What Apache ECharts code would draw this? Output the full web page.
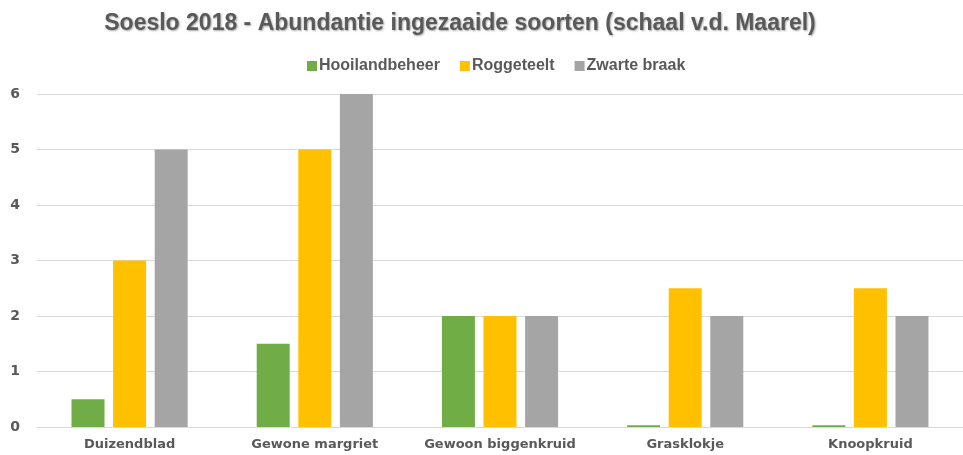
<!DOCTYPE html>
<html>
<head>
<meta charset="utf-8">
<script src="https://cdn.jsdelivr.net/npm/echarts@6/dist/echarts.min.js"></script>
<style>
  html, body { margin: 0; padding: 0; background: #fff; }
  #chart { width: 963px; height: 455px; }
</style>
</head>
<body>
<div id="chart"></div>
<script>
// soorten (categorieën)
const categories = ['Duizendblad', 'Gewone margriet', 'Gewoon biggenkruid', 'Grasklokje', 'Knoopkruid']
const hooilandbeheer = [0.5, 1.5, 2, 0.03, 0.03]
const roggeteelt = [3, 5, 2, 2.5, 2.5]
const zwarteBraak = [5, 6, 2, 2, 2]
const yTicks = [0, 1, 2, 3, 4, 5, 6]

const textColor = '#595959'
const labelFont = 'DejaVu Sans'
const narrowFont = '"Liberation Sans Narrow", "Arial Narrow", "Liberation Sans", sans-serif'

const chart = echarts.init(document.getElementById('chart'))

const makeSeries = (name, data, color) => ({
  name,
  type: 'bar',
  data,
  barWidth: 33,
  barGap: '26%',
  itemStyle: { color },
  emphasis: { disabled: true }
})

chart.setOption({
  animation: false,
  backgroundColor: '#fff',
  title: {
    text: 'Soeslo 2018 - Abundantie ingezaaide soorten (schaal v.d. Maarel)',
    left: 455,
    textAlign: 'center',
    top: 7,
    textStyle: {
      color: textColor,
      fontSize: 23,
      fontWeight: 'bold',
      fontFamily: narrowFont,
      textShadowColor: 'rgba(0,0,0,0.35)',
      textShadowBlur: 2,
      textShadowOffsetX: 1,
      textShadowOffsetY: 1
    }
  },
  legend: {
    top: 53,
    left: 302,
    itemWidth: 10,
    itemHeight: 10,
    itemGap: 20,
    icon: 'rect',
    textStyle: {
      color: textColor,
      fontSize: 16,
      fontWeight: 'bold',
      fontFamily: narrowFont,
      padding: [0, 0, 0, -3]
    },
    data: ['Hooilandbeheer', 'Roggeteelt', 'Zwarte braak']
  },
  grid: {
    left: 37,
    width: 935,
    top: 94,
    bottom: 28,
    containLabel: false
  },
  xAxis: {
    type: 'category',
    data: categories,
    axisLine: { lineStyle: { color: '#d9d9d9', width: 1 } },
    axisTick: { show: false },
    axisLabel: {
      interval: 0,
      color: textColor,
      fontSize: 13,
      fontWeight: 'bold',
      fontFamily: labelFont,
      margin: 11
    }
  },
  yAxis: {
    type: 'value',
    min: yTicks[0],
    max: yTicks[yTicks.length - 1],
    interval: 1,
    axisLine: { show: false },
    axisTick: { show: false },
    axisLabel: {
      color: textColor,
      fontSize: 14,
      fontWeight: 'bold',
      fontFamily: labelFont,
      margin: 17
    },
    splitLine: { lineStyle: { color: '#d9d9d9', width: 1 } }
  },
  series: [
    makeSeries('Hooilandbeheer', hooilandbeheer, '#70ad47'),
    makeSeries('Roggeteelt', roggeteelt, '#ffc000'),
    makeSeries('Zwarte braak', zwarteBraak, '#a5a5a5')
  ]
})
</script>
</body>
</html>
